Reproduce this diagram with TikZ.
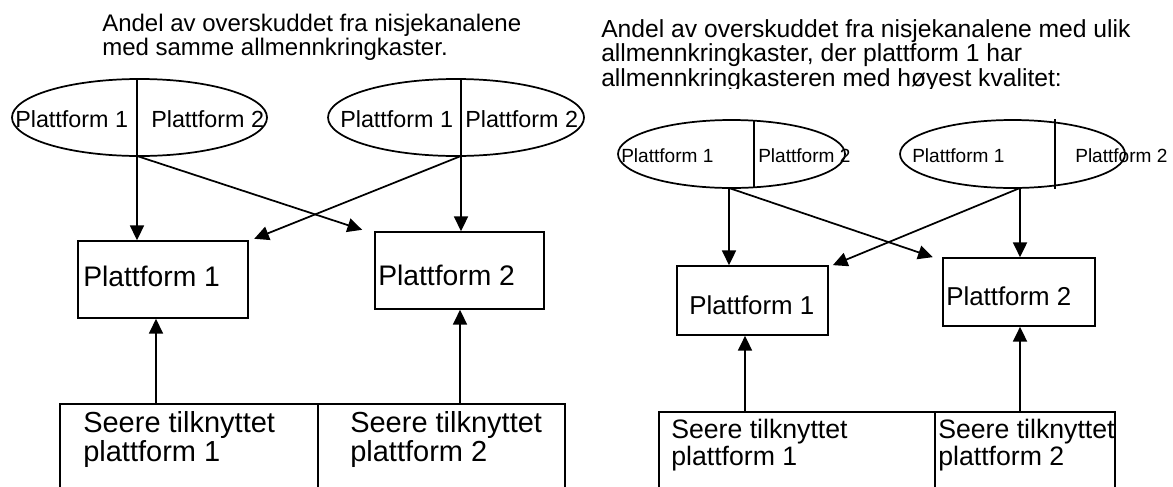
\documentclass[tikz,border=0pt]{standalone}
\usepackage{fontspec}
\setmainfont{Liberation Sans}
\usetikzlibrary{arrows.meta}
\usetikzlibrary{shapes.geometric}

\newcommand{\px}{0.75pt}

\tikzset{
  pbox/.style={draw, line width=1.3pt, rectangle, inner sep=0pt},
  oval/.style={draw, line width=1.3pt, ellipse, inner sep=0pt},
  divline/.style={line width=1.3pt},
  arr/.style={line width=1.3pt, -{Triangle[length=11pt,width=10.5pt]}},
  txt/.style={inner sep=0pt, anchor=base west, align=left},
}

\begin{document}
\begin{tikzpicture}[x=\px, y=-\px]
\clip (0,0) rectangle (1173,486);
\fill[white] (0,0) rectangle (1173,486);
\node[txt, font=\fontsize{18pt}{16.5pt}\selectfont] (ltitle) at (102,55) {Andel av overskuddet fra nisjekanalene\\med samme allmennkringkaster.};
\node[oval, minimum width=255*\px, minimum height=77*\px] (lov1) at (139.5,117.5) {};
\node[oval, minimum width=256*\px, minimum height=77*\px] (lov2) at (456,117.5) {};
\node[txt, font=\fontsize{17.5pt}{20pt}\selectfont] (lov1a) at (15,127) {Plattform 1};
\node[txt, font=\fontsize{17.5pt}{20pt}\selectfont] (lov1b) at (151,127) {Plattform 2};
\node[txt, font=\fontsize{17.5pt}{20pt}\selectfont] (lov2a) at (340,127) {Plattform 1};
\node[txt, font=\fontsize{17.5pt}{20pt}\selectfont] (lov2b) at (465,127) {Plattform 2};
\node[pbox, minimum width=170*\px, minimum height=77*\px] (lbox1) at (163,279.5) {};
\node[pbox, minimum width=169*\px, minimum height=77*\px] (lbox2) at (459.5,270.5) {};
\node[txt, font=\fontsize{21.2pt}{24pt}\selectfont] (lbox1t) at (83,286) {Plattform 1};
\node[txt, font=\fontsize{21.2pt}{24pt}\selectfont] (lbox2t) at (378,285) {Plattform 2};
\node[pbox, minimum width=258*\px, minimum height=116*\px] (lseer1) at (189,462) {};
\node[pbox, minimum width=247*\px, minimum height=116*\px] (lseer2) at (441.5,462) {};
\node[txt, font=\fontsize{21.75pt}{17.25pt}\selectfont] (lseer1t) at (83,461) {Seere tilknyttet\\plattform 1};
\node[txt, font=\fontsize{21.75pt}{17.25pt}\selectfont] (lseer2t) at (350,461) {Seere tilknyttet\\plattform 2};
\coordinate (ld1) at (137,156);
\coordinate (ld2) at (461,156);
\draw[divline] (ld1 |- lov1.north) -- (ld1);
\draw[divline] (ld2 |- lov2.north) -- (ld2);
\draw[arr] (ld1) -- (ld1 |- lbox1.north);
\draw[arr] (ld2) -- (ld2 |- lbox2.north);
\draw[arr] (ld1) -- ([xshift=-9pt,yshift=1pt]lbox2.north west);
\draw[arr] (ld2) -- ([xshift=4pt,yshift=1pt]lbox1.north east);
\coordinate (lu1) at (156,404);
\coordinate (lu2) at (460,404);
\draw[arr] (lu1) -- (lu1 |- lbox1.south);
\draw[arr] (lu2) -- (lu2 |- lbox2.south);
\begin{scope}
\clip (590,0) rectangle (1173,88);
\node[txt, font=\fontsize{18.5pt}{18.3pt}\selectfont] (rtitle) at (601,86) {Andel av overskuddet fra nisjekanalene med ulik\\allmennkringkaster, der plattform 1 har\\allmennkringkasteren med høyest kvalitet:};
\end{scope}
\node[oval, minimum width=227*\px, minimum height=68*\px] (rov1) at (731.5,154) {};
\node[oval, minimum width=225*\px, minimum height=68*\px] (rov2) at (1012.5,154) {};
\draw[divline] (754,120) -- (754,188);
\draw[divline] (1055,119) -- (1055,189);
\node[txt, font=\fontsize{14.3pt}{17pt}\selectfont] (rov1a) at (621,162) {Plattform 1};
\node[txt, font=\fontsize{14.3pt}{17pt}\selectfont] (rov1b) at (758,162) {Plattform 2};
\node[txt, font=\fontsize{14.3pt}{17pt}\selectfont] (rov2a) at (912,162) {Plattform 1};
\node[txt, font=\fontsize{14.3pt}{17pt}\selectfont] (rov2b) at (1075,162) {Plattform 2};
\node[pbox, minimum width=151*\px, minimum height=69*\px] (rbox1) at (752.5,300.5) {};
\node[pbox, minimum width=152*\px, minimum height=68*\px] (rbox2) at (1019,292) {};
\node[txt, font=\fontsize{19.4pt}{22pt}\selectfont] (rbox1t) at (689,314) {Plattform 1};
\node[txt, font=\fontsize{19.4pt}{22pt}\selectfont] (rbox2t) at (946,305) {Plattform 2};
\node[pbox, minimum width=276*\px, minimum height=118*\px] (rseer1) at (797,471) {};
\node[pbox, minimum width=180*\px, minimum height=118*\px] (rseer2) at (1025,471) {};
\node[txt, font=\fontsize{20pt}{16.5pt}\selectfont] (rseer1t) at (671,465) {Seere tilknyttet\\plattform 1};
\node[txt, font=\fontsize{20pt}{16.5pt}\selectfont] (rseer2t) at (938,465) {Seere tilknyttet\\plattform 2};
\coordinate (rd1) at (729,188);
\coordinate (rd2) at (1020,188);
\draw[arr] (rd1) -- (rd1 |- rbox1.north);
\draw[arr] (rd2) -- (rd2 |- rbox2.north);
\draw[arr] (rd1) -- ([xshift=-7pt]rbox2.north west);
\draw[arr] (rd2) -- ([xshift=3pt]rbox1.north east);
\coordinate (ru1) at (745,412);
\coordinate (ru2) at (1020,412);
\draw[arr] (ru1) -- (ru1 |- rbox1.south);
\draw[arr] (ru2) -- (ru2 |- rbox2.south);
\end{tikzpicture}
\end{document}
